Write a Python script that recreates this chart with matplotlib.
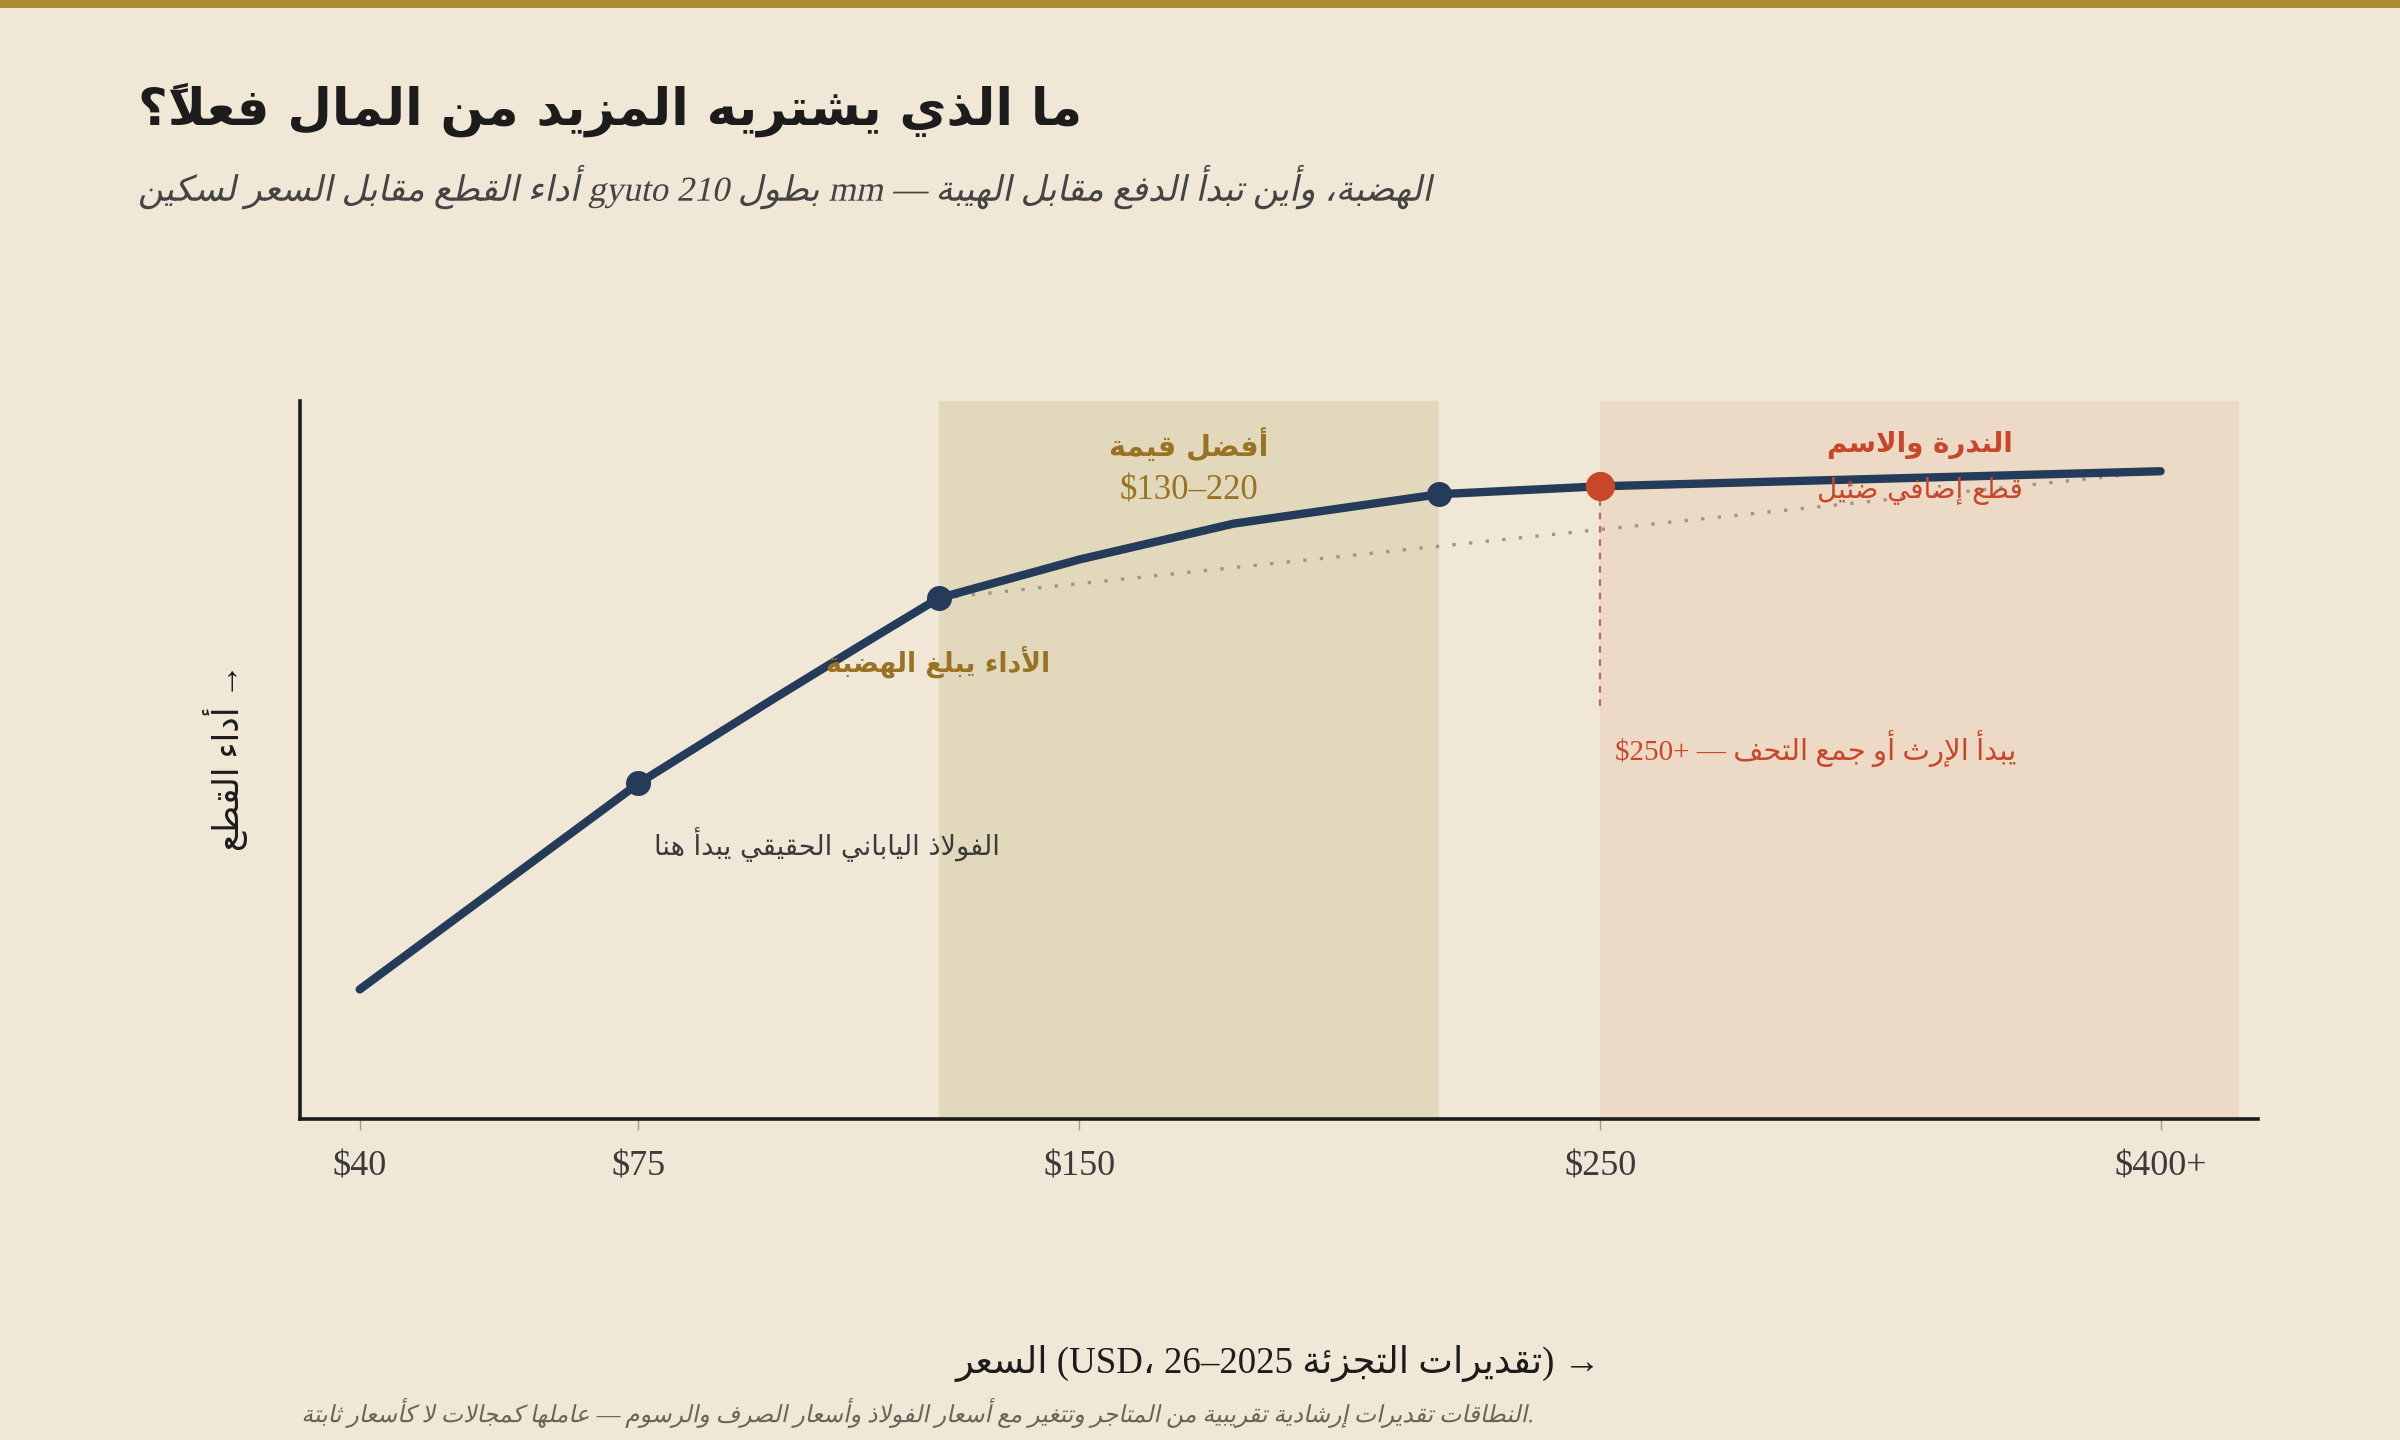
import numpy as np
import matplotlib
matplotlib.use('Agg')
import matplotlib.pyplot as plt
from matplotlib.patches import Rectangle
from matplotlib.patheffects import AbstractPathEffect
from matplotlib.transforms import Affine2D, blended_transform_factory

# --- data -------------------------------------------------------------
prices = [40, 75, 100, 115, 130, 150, 180, 220, 250, 400]
performance = [18.0, 46.7, 58.6, 65.6, 72.5, 77.9, 82.9, 87.0, 88.1, 90.2]
milestones = [75, 130, 220]
premium_price = 250
value_band = (130, 220)
premium_band = (250, 421)
tick_prices = [40, 75, 150, 250, 400]
tick_labels = ['$40', '$75', '$150', '$250', '$400+']

# price axis is not linear: knots of the reference's price scale
scale_prices = [20, 40, 75, 130, 150, 220, 250, 400, 500]
scale_pos = [131, 235, 417, 613, 705, 940, 1045, 1411, 1655]

BG = '#f0e7d7'
NAVY = '#243b5a'
RED = '#c8462a'
GOLD = '#9a7223'
DARK = '#1c1c1c'

# --- minimal Arabic shaping (matplotlib has no text shaping) -----------
DUAL = dict(zip('ئبتثجحخسشصضطظعغفقكلمنهي',
                [0xFE89, 0xFE8F, 0xFE95, 0xFE99, 0xFE9D, 0xFEA1, 0xFEA5, 0xFEB1,
                 0xFEB5, 0xFEB9, 0xFEBD, 0xFEC1, 0xFEC5, 0xFEC9, 0xFECD, 0xFED1,
                 0xFED5, 0xFED9, 0xFEDD, 0xFEE1, 0xFEE5, 0xFEE9, 0xFEF1]))
RIGHT = dict(zip('آأؤإاةدذرزوى',
                 [0xFE81, 0xFE83, 0xFE85, 0xFE87, 0xFE8D, 0xFE93, 0xFEA9, 0xFEAB,
                  0xFEAD, 0xFEAF, 0xFEED, 0xFEEF]))
LAMALEF = dict(zip('آأإا', [0xFEF5, 0xFEF7, 0xFEF9, 0xFEFB]))


def shape(s):
    toks = []
    i = 0
    while i < len(s):
        c = s[i]
        if 0x064B <= ord(c) <= 0x0652 and toks:
            toks[-1][2] += c
            i += 1
            continue
        if c == 'ل' and i + 1 < len(s) and s[i + 1] in LAMALEF:
            toks.append([LAMALEF[s[i + 1]], 'R', ''])
            i += 2
            continue
        if c in DUAL:
            toks.append([DUAL[c], 'D', ''])
        elif c in RIGHT:
            toks.append([RIGHT[c], 'R', ''])
        else:
            toks.append([c, 'U', ''])
        i += 1
    out = []
    for k, (b, kind, m) in enumerate(toks):
        if kind == 'U':
            out.append(m + b)
            continue
        prev = k > 0 and toks[k - 1][1] == 'D'
        nxt = kind == 'D' and k + 1 < len(toks) and toks[k + 1][1] in 'DR'
        if kind == 'D':
            off = 3 if (prev and nxt) else 1 if prev else 2 if nxt else 0
        else:
            off = 1 if prev else 0
        # marks go first so they land on the glyph drawn right after them
        out.append(m + chr(b + off))
    return out


def rtl(s):
    return ''.join(reversed(shape(s)))


class Slant(AbstractPathEffect):
    def draw_path(self, renderer, gc, tpath, affine, rgbFace=None):
        renderer.draw_path(gc, tpath, Affine2D().skew_deg(12, 0) + affine, rgbFace)


def fwd(p):
    return np.interp(p, scale_prices, scale_pos)


def inv(x):
    return np.interp(x, scale_pos, scale_prices)


AR = ['DejaVu Sans']
MIX = ['Liberation Serif', 'DejaVu Sans']

# --- figure -----------------------------------------------------------
fig = plt.figure(figsize=(12, 7.2), dpi=200, facecolor=BG)
fig.add_artist(Rectangle((0, 0.9945), 1, 0.0055, transform=fig.transFigure,
                         color='#b08a2e', lw=0))

ax = fig.add_axes([0.125, 0.2232, 0.8157, 0.4984])
ax.set_facecolor(BG)
ax.set_xscale('function', functions=(fwd, inv))
ax.set_xlim(32.5, 426)
ax.set_ylim(0, 100)

ax.axvspan(*value_band, color='#e2d8bb', lw=0, zorder=0)
ax.axvspan(*premium_band, color='#ecdac6', lw=0, zorder=0)

ax.plot(prices, performance, color=NAVY, lw=3, solid_capstyle='round',
        solid_joinstyle='round', zorder=3)

y130 = np.interp(milestones[1], prices, performance)
ax.plot([milestones[1], prices[-1]], [y130, performance[-1]], ls=(0, (1, 4)),
        color='#9a978f', lw=1.2, zorder=2)

my = np.interp(milestones, prices, performance)
ax.plot(milestones, my, 'o', color=NAVY, ms=8, zorder=4)
py = np.interp(premium_price, prices, performance)
ax.plot([premium_price, premium_price], [py, 56.7], ls=(0, (3, 3)), color=RED,
        lw=0.8, alpha=0.8, zorder=2)
ax.plot([premium_price], [py], 'o', color=RED, ms=9.5, zorder=5)

# band headings
bt = blended_transform_factory(ax.transData, ax.transAxes)
vmid = inv((fwd(value_band[0]) + fwd(value_band[1])) / 2)
pmid = inv((fwd(premium_band[0]) + fwd(premium_band[1])) / 2)
ax.text(vmid, 0.938, rtl('أفضل قيمة'), transform=bt, ha='center', va='center',
        family=AR, weight='bold', fontsize=10.3, color=GOLD)
ax.text(vmid, 0.874, '$130–220', transform=bt, ha='center', va='center',
        family=MIX, fontsize=12.5, color=GOLD)
ax.text(pmid, 0.938, rtl('الندرة والاسم'), transform=bt, ha='center', va='center',
        family=AR, weight='bold', fontsize=10, color=RED)
ax.text(pmid, 0.874, rtl('قطع إضافي ضئيل'), transform=bt, ha='center', va='center',
        family=AR, fontsize=10, color=RED)

ax.annotate(rtl('الأداء يبلغ الهضبة'), (milestones[1], my[1]), xytext=(0, -23),
            textcoords='offset points', ha='center', va='center',
            family=AR, weight='bold', fontsize=9.6, color=GOLD)
ax.annotate(rtl('الفولاذ الياباني الحقيقي يبدأ هنا'), (milestones[0], my[0]),
            xytext=(5.5, -22), textcoords='offset points', ha='left', va='center',
            family=AR, fontsize=9.8, color='#3a3a3a')
ax.annotate('$250+ — ' + rtl('يبدأ الإرث أو جمع التحف'), (premium_price, 51.6),
            xytext=(5.5, 0), textcoords='offset points', ha='left', va='center',
            family=MIX, fontsize=10.5, color=RED)

# axes styling
for s in ('top', 'right'):
    ax.spines[s].set_visible(False)
for s in ('left', 'bottom'):
    ax.spines[s].set_color(DARK)
    ax.spines[s].set_linewidth(1.3)
ax.set_yticks([])
ax.set_xticks(tick_prices)
ax.set_xticklabels(tick_labels, family=MIX, fontsize=13, color='#3a3a3a')
ax.xaxis.set_minor_locator(matplotlib.ticker.NullLocator())
ax.tick_params(axis='x', length=4, width=0.5, color='#a09a90', pad=7.5)

# titles and notes
fig.text(0.0574, 0.924, rtl('ما الذي يشتريه المزيد من المال فعلاً؟'), ha='left',
         va='center', family=AR, weight='bold', fontsize=18.5, color=DARK)
fig.text(0.0574, 0.870,
         rtl('أداء القطع مقابل السعر لسكين') + ' gyuto 210 ' + rtl('بطول') + ' mm — '
         + rtl('الهضبة، وأين تبدأ الدفع مقابل الهيبة'),
         ha='left', va='center', family=MIX, fontsize=12.6, color='#444444',
         path_effects=[Slant()])
fig.text(0.0938, 0.474, rtl('أداء القطع') + ' →', rotation=90, ha='center',
         va='center', family=MIX, fontsize=12.5, color=DARK)
fig.text(0.5325, 0.053, rtl('السعر') + ' (USD، 26–2025 ' + rtl('تقديرات التجزئة') + ') →',
         ha='center', va='center', family=MIX, fontsize=13.3, color=DARK)
fig.text(0.1256, 0.019,
         rtl('النطاقات تقديرات إرشادية تقريبية من المتاجر وتتغير مع أسعار الفولاذ '
             'وأسعار الصرف والرسوم — عاملها كمجالات لا كأسعار ثابتة') + '.',
         ha='left', va='center', family=MIX, fontsize=8.5, color='#6b6358',
         path_effects=[Slant()])

fig.savefig('out.png', dpi=200, facecolor=BG)
